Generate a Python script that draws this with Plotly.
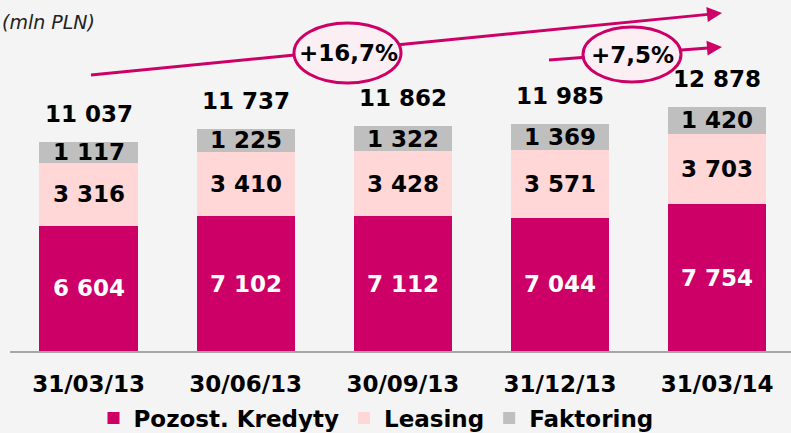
import plotly.graph_objects as go

# Quarter-end dates
periods = ["31/03/13", "30/06/13", "30/09/13", "31/12/13", "31/03/14"]

# Portfolio components (mln PLN)
pozostale_kredyty = [6604, 7102, 7112, 7044, 7754]
leasing = [3316, 3410, 3428, 3571, 3703]
faktoring = [1117, 1225, 1322, 1369, 1420]

# Totals as reported
totals = [11037, 11737, 11862, 11985, 12878]

# Growth callouts
growth_year = "+16,7%"
growth_quarter = "+7,5%"

MAGENTA = "#CC0066"
PINK = "#FFD7D7"
GREY = "#BFBFBF"
BG = "#F4F4F4"
FONT = "DejaVu Sans"
FS = 23

# plot area geometry (pixels) used to place the free-floating decorations
L, R, T, B = 10, 0, 0, 82
WIDTH, HEIGHT = 791, 433
PW, PH = WIDTH - L - R, HEIGHT - T - B


def fx(px):
    return (px - L) / PW


def fy(py):
    return (PH + T - py) / PH


def fmt(v):
    return f"{v:,}".replace(",", " ")


fig = go.Figure()
series = [
    ("Pozost. Kredyty", pozostale_kredyty, MAGENTA),
    ("Leasing", leasing, PINK),
    ("Faktoring", faktoring, GREY),
]
for name, vals, col in series:
    fig.add_trace(go.Bar(
        x=periods, y=vals, name=name,
        marker=dict(color=col, line=dict(width=0)),
        width=0.625,
    ))

annotations = []
# segment labels, centred in each stacked segment
base = [0] * len(periods)
for name, vals, col in series:
    txt_col = "white" if col == MAGENTA else "black"
    for i, v in enumerate(vals):
        annotations.append(dict(
            x=periods[i], y=base[i] + v / 2, xref="x", yref="y",
            text=fmt(v), showarrow=False,
            font=dict(family=FONT, size=FS, color=txt_col, weight="bold"),
            xanchor="center", yanchor="middle",
        ))
        base[i] += v

# totals above the bars
for i, t in enumerate(totals):
    annotations.append(dict(
        x=periods[i], y=t, xref="x", yref="y",
        text=fmt(t), showarrow=False, yshift=28,
        font=dict(family=FONT, size=FS, color="black", weight="bold"),
        xanchor="center", yanchor="middle",
    ))

# unit note in the corner
annotations.append(dict(
    x=fx(0), y=fy(22), xref="paper", yref="paper",
    text="(mln PLN)", showarrow=False,
    font=dict(family=FONT, size=19, color="#222222", style="italic"),
    xanchor="left", yanchor="middle",
))

# growth labels inside the ellipses
annotations.append(dict(
    x=fx(348), y=fy(53), xref="paper", yref="paper",
    text=growth_year, showarrow=False,
    font=dict(family=FONT, size=FS, color="black", weight="bold"),
    xanchor="center", yanchor="middle",
))
annotations.append(dict(
    x=fx(632), y=fy(55), xref="paper", yref="paper",
    text=growth_quarter, showarrow=False,
    font=dict(family=FONT, size=FS, color="black", weight="bold"),
    xanchor="center", yanchor="middle",
))

shapes = []


def arrow(x0, y0, x1, y1, head=15, half=7.5):
    dx, dy = x1 - x0, y1 - y0
    n = (dx * dx + dy * dy) ** 0.5
    ux, uy = dx / n, dy / n
    bx, by = x1 - head * ux, y1 - head * uy
    px, py = -uy, ux
    shapes.append(dict(
        type="line", xref="paper", yref="paper",
        x0=fx(x0), y0=fy(y0), x1=fx(bx + ux), y1=fy(by + uy),
        line=dict(color=MAGENTA, width=3), layer="above",
    ))
    pts = [(x1, y1), (bx + half * px, by + half * py), (bx - half * px, by - half * py)]
    path = "M " + " L ".join(f"{fx(a):.5f},{fy(b):.5f}" for a, b in pts) + " Z"
    shapes.append(dict(
        type="path", xref="paper", yref="paper", path=path,
        fillcolor=MAGENTA, line=dict(color=MAGENTA, width=0), layer="above",
    ))


def ellipse(x0, y0, x1, y1):
    shapes.append(dict(
        type="circle", xref="paper", yref="paper",
        x0=fx(x0), y0=fy(y1), x1=fx(x1), y1=fy(y0),
        fillcolor="#FBEFF4", line=dict(color=MAGENTA, width=3), layer="above",
    ))


arrow(91, 75, 722, 13)
arrow(549, 60, 722, 47)
ellipse(294, 23, 401, 83)
ellipse(583, 27, 681, 82)

scale = 0.01895  # pixels per mln PLN
fig.update_layout(
    width=WIDTH, height=HEIGHT,
    margin=dict(l=L, r=R, t=T, b=B, pad=0),
    paper_bgcolor=BG, plot_bgcolor=BG,
    barmode="stack",
    showlegend=True,
    legend=dict(
        orientation="h", xref="container", yref="container",
        x=376 / WIDTH, xanchor="center",
        y=(HEIGHT - 418) / HEIGHT, yanchor="middle",
        font=dict(family=FONT, size=FS, color="black", weight="bold"),
        bgcolor="rgba(0,0,0,0)", traceorder="normal",
        itemwidth=30,
    ),
    xaxis=dict(
        range=[-0.5, 4.47], showgrid=False, zeroline=False,
        showline=True, linecolor="#A6A6A6", linewidth=2,
        ticks="", ticklabelstandoff=11,
        tickfont=dict(family=FONT, size=FS, color="black", weight="bold"),
        fixedrange=True,
    ),
    yaxis=dict(
        range=[0, PH / scale], visible=False, showgrid=False, zeroline=False,
        fixedrange=True,
    ),
    annotations=annotations,
    shapes=shapes,
)

fig.write_html("out.html")
